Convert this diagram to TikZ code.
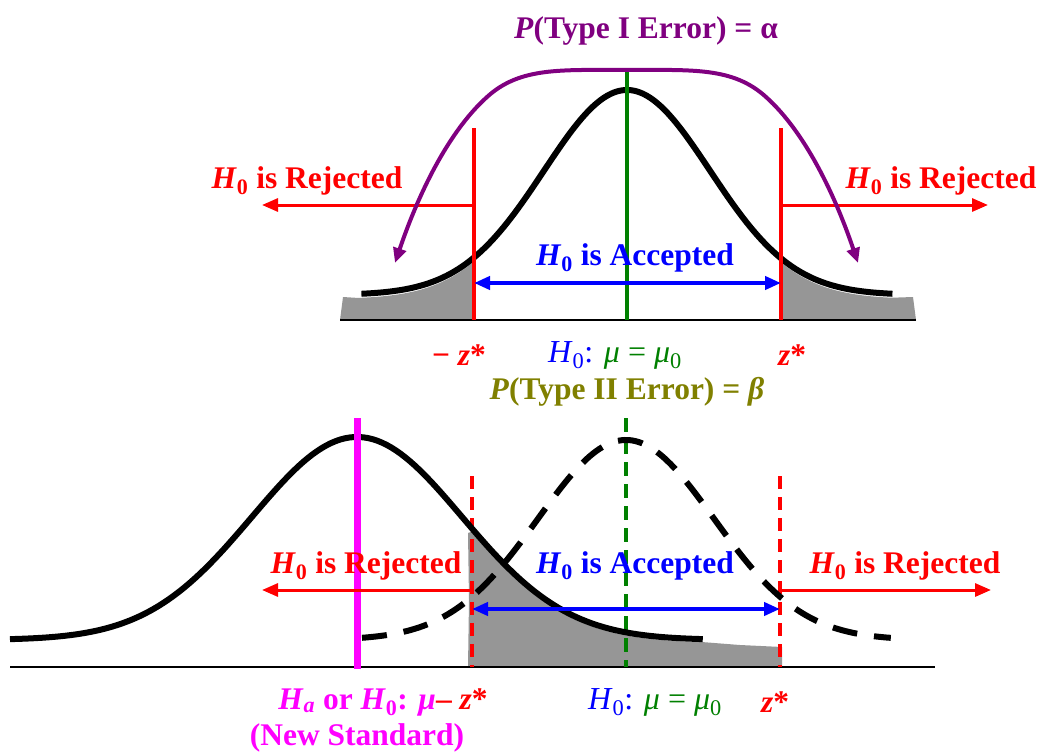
\documentclass[tikz,border=0pt]{standalone}
\usepackage{fontspec}
\setmainfont{Liberation Serif}
\usetikzlibrary{arrows.meta}
\definecolor{mypurple}{RGB}{128,0,128}
\definecolor{myolive}{RGB}{128,128,0}
\definecolor{mygreen}{RGB}{0,128,0}
\definecolor{mygray}{RGB}{150,150,150}
\definecolor{mymag}{RGB}{255,0,255}
\begin{document}
\begin{tikzpicture}[x=1pt,y=-1pt,
  txt/.style={inner sep=0pt, font=\fontsize{31.5}{36}\selectfont\bfseries},
  plain/.style={inner sep=0pt, font=\fontsize{32}{36}\selectfont},
  curve/.style={line width=6pt, black},
  dcurve/.style={line width=6pt, black, dash pattern=on 25pt off 17pt},
  axisln/.style={line width=2pt, black},
  redln/.style={line width=3.5pt, red},
  reddash/.style={line width=3.5pt, red, dash pattern=on 13pt off 8pt},
  greenln/.style={line width=3.5pt, mygreen},
  greendash/.style={line width=3.5pt, mygreen, dash pattern=on 14pt off 8pt},
  redarr/.style={line width=3pt, red, -{Triangle[length=16pt,width=13pt]}},
  bluearr/.style={line width=4pt, blue, {Triangle[length=16pt,width=13pt]}-{Triangle[length=16pt,width=13pt]}},
  purparr/.style={line width=4pt, mypurple, {Triangle[length=15pt,width=13pt]}-{Triangle[length=15pt,width=13pt]}},
  shade/.style={fill=mygray}
]
\useasboundingbox (0,0) rectangle (1038,752);

% ---------- top panel ----------
\coordinate (tbl) at (340,320);
\coordinate (tbr) at (916,320);
\fill[shade] (340,320) -- (343,297) -- (359,298)
  -- plot[domain=-3.23:-1.84,samples=40] ({627+83*\x},{299-205*exp(-\x*\x/2)})
  -- (474,320) -- cycle;
\fill[shade] (781,320)
  -- plot[domain=1.855:3.19,samples=40] ({627+83*\x},{299-205*exp(-\x*\x/2)})
  -- (913,297) -- (916,320) -- cycle;
\draw[axisln] (tbl) -- (tbr);
\draw[curve] plot[domain=-3.2:3.2,samples=150] ({627+83*\x},{295-205*exp(-\x*\x/2)});

\coordinate (zl1t) at (474,128);
\coordinate (zl1b) at (474,320);
\coordinate (zr1t) at (781,128);
\coordinate (zr1b) at (781,320);
\draw[redln] (zl1t) -- (zl1b);
\draw[redln] (zr1t) -- (zr1b);
\coordinate (c1t) at (627,72);
\coordinate (c1b) at (627,320);
\draw[greenln] (c1t) -- (c1b);

\coordinate (rl1a) at (474,205);
\coordinate (rl1b) at (262,205);
\coordinate (rr1a) at (781,205);
\coordinate (rr1b) at (988,205);
\draw[redarr] (rl1a) -- (rl1b);
\draw[redarr] (rr1a) -- (rr1b);
\coordinate (ba1) at (474,283);
\coordinate (bb1) at (781,283);
\draw[bluearr] (ba1) -- (bb1);

\coordinate (pa) at (395,263);
\coordinate (pb) at (858,263);
\draw[purparr] (pa) .. controls (418,195) and (448,132) .. (487,97)
  .. controls (520,67) and (560,70) .. (627,70)
  .. controls (693,70) and (733,67) .. (766,97)
  .. controls (805,132) and (835,195) .. (pb);

\node[txt, text=mypurple] (t1) at (646,31) {\textit{P}(Type I Error) = α};
\node[txt, text=red] (rej1) at (307,181) {\textit{H}\textsubscript{0} is Rejected};
\node[txt, text=red] (rej2) at (941,181) {\textit{H}\textsubscript{0} is Rejected};
\node[txt, text=blue] (acc1) at (635,258) {\textit{H}\textsubscript{0} is Accepted};
\node[txt, text=red] (mz1) at (459,355) {− \textit{z}*};
\node[plain] (h01) at (615,355) {\textcolor{blue}{\textit{H}\textsubscript{0}:} \textcolor{mygreen}{\textit{μ} = \textit{μ}\textsubscript{0}}};
\node[txt, text=red] (z1) at (792,355) {\textit{z}*};
\node[txt, text=myolive] (t2) at (627,392) {\textit{P}(Type II Error) = \textit{β}};

% ---------- bottom panel ----------
\fill[shade] (468,667) -- (469,600) -- (468,533)
  -- plot[domain=1.095:3.295,samples=40] ({357+105*\x},{643-203*exp(-\x*\x/2)})
  -- (740,645) -- (782,647) -- (782,667) -- cycle;
\coordinate (bbl) at (10,667);
\coordinate (bbr) at (935,667);
\draw[axisln] (bbl) -- (bbr);

\coordinate (zl2t) at (472,476);
\coordinate (zl2b) at (472,667);
\coordinate (zr2t) at (780,476);
\coordinate (zr2b) at (780,667);
\draw[reddash] (zl2t) -- (zl2b);
\draw[reddash] (zr2t) -- (zr2b);
\coordinate (c2t) at (626,418);
\coordinate (c2b) at (626,667);
\draw[greendash] (c2t) -- (c2b);

\draw[curve] plot[domain=-3.305:3.295,samples=150] ({357+105*\x},{640-203*exp(-\x*\x/2)});
\draw[dcurve] plot[domain=-3.0:3.01,samples=150] ({626+88*\x},{640-200*exp(-\x*\x/2)});

\coordinate (m2t) at (357,418);
\coordinate (m2b) at (357,669);
\draw[line width=7pt, mymag] (m2t) -- (m2b);

\coordinate (rl2a) at (472,590);
\coordinate (rl2b) at (262,590);
\coordinate (rr2a) at (780,590);
\coordinate (rr2b) at (991,590);
\draw[redarr] (rl2a) -- (rl2b);
\draw[redarr] (rr2a) -- (rr2b);
\coordinate (ba2) at (472,609);
\coordinate (bb2) at (780,609);
\draw[bluearr] (ba2) -- (bb2);

\node[txt, text=red] (rej3) at (366,566) {\textit{H}\textsubscript{0} is Rejected};
\node[txt, text=red] (rej4) at (905,566) {\textit{H}\textsubscript{0} is Rejected};
\node[txt, text=blue] (acc2) at (635,566) {\textit{H}\textsubscript{0} is Accepted};
\node[txt] (ha) at (383,702) {\textcolor{mymag}{\textit{H}\textsubscript{\textit{a}} or \textit{H}\textsubscript{0}: \textit{μ}}\textcolor{red}{– \textit{z}*}};
\node[txt, text=mymag] (ns) at (357,738) {(New Standard)};
\node[plain] (h02) at (655,702) {\textcolor{blue}{\textit{H}\textsubscript{0}:} \textcolor{mygreen}{\textit{μ} = \textit{μ}\textsubscript{0}}};
\node[txt, text=red] (z2) at (775,702) {\textit{z}*};
\end{tikzpicture}
\end{document}
